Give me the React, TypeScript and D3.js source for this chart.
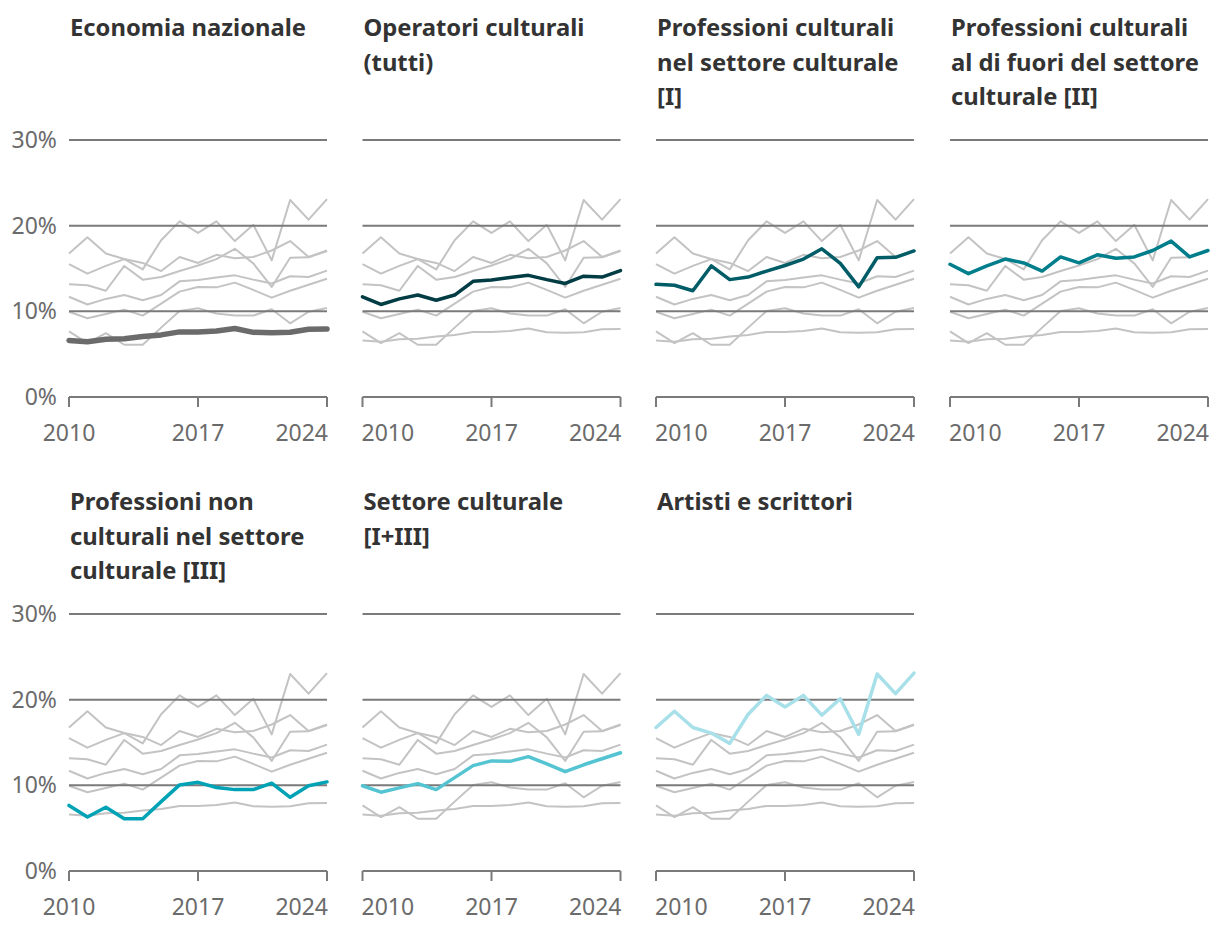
import React from "react";
import * as d3 from "d3";

const years = d3.range(2010, 2025);

const seriesNames = [
  "Economia nazionale",
  "Operatori culturali (tutti)",
  "Professioni culturali nel settore culturale [I]",
  "Professioni culturali al di fuori del settore culturale [II]",
  "Professioni non culturali nel settore culturale [III]",
  "Settore culturale [I+III]",
  "Artisti e scrittori",
];

const titleLines = [
  ["Economia nazionale"],
  ["Operatori culturali", "(tutti)"],
  ["Professioni culturali", "nel settore culturale", "[I]"],
  ["Professioni culturali", "al di fuori del settore", "culturale [II]"],
  ["Professioni non", "culturali nel settore", "culturale [III]"],
  ["Settore culturale", "[I+III]"],
  ["Artisti e scrittori"],
];

const economia = [6.6, 6.45, 6.75, 6.8, 7.05, 7.25, 7.6, 7.6, 7.7, 8.0, 7.55, 7.5, 7.55, 7.9, 7.95];
const operatori = [11.7, 10.8, 11.45, 11.9, 11.3, 11.9, 13.5, 13.65, 13.95, 14.2, 13.7, 13.25, 14.1, 14.0, 14.75];
const profSettore = [13.15, 13.05, 12.4, 15.3, 13.7, 14.0, 14.7, 15.35, 16.1, 17.3, 15.6, 12.85, 16.25, 16.3, 17.05];
const profFuori = [15.5, 14.4, 15.3, 16.1, 15.65, 14.7, 16.35, 15.65, 16.6, 16.2, 16.35, 17.1, 18.2, 16.35, 17.1];
const nonCulturali = [7.65, 6.3, 7.45, 6.1, 6.1, 8.1, 10.05, 10.35, 9.75, 9.5, 9.5, 10.25, 8.6, 9.95, 10.4];
const settore = [9.95, 9.2, 9.7, 10.2, 9.5, 10.9, 12.3, 12.85, 12.8, 13.35, 12.5, 11.6, 12.4, 13.1, 13.8];
const artisti = [16.75, 18.65, 16.75, 16.1, 14.9, 18.3, 20.5, 19.15, 20.5, 18.2, 20.1, 15.95, 23.0, 20.7, 23.1];

const allSeries = [economia, operatori, profSettore, profFuori, nonCulturali, settore, artisti];

const colors = ["#6b6b6b", "#003c43", "#005c66", "#007e8b", "#00a2b6", "#55c4d2", "#a8e0e9"];
const highlightWidths = [5.5, 3.5, 3.5, 3.5, 3.5, 3.5, 3.5];

const yTicks = [0, 10, 20, 30];
const xTicks = [2010, 2017, 2024];

const W = 1220;
const H = 938;
const colX = [69, 362.5, 656, 950];
const panelW = 258;
const rowBase = [397, 871];
const plotH = 257;
const titleBase = [36, 510];
const titleLH = 34.6;

const font = "'Noto Sans', sans-serif";

function Panel({ idx }: { idx: number }) {
  const col = idx % 4;
  const row = Math.floor(idx / 4);
  const x0 = colX[col];
  const x = d3.scaleLinear().domain([2010, 2024]).range([x0, x0 + panelW]);
  const y = d3.scaleLinear().domain([0, 30]).range([rowBase[row], rowBase[row] - plotH]);
  const line = d3
    .line<number>()
    .x((_, i) => x(years[i]))
    .y((d) => y(d));
  return (
    <g>
      {titleLines[idx].map((t, i) => (
        <text
          key={i}
          x={x0 + 1}
          y={titleBase[row] + i * titleLH}
          fontFamily={font}
          fontWeight={700}
          fontSize={23.8}
          fill="#333333"
        >
          {t}
        </text>
      ))}
      {allSeries.map((s, i) =>
        i === idx ? null : (
          <path key={i} d={line(s) || ""} fill="none" stroke="#c3c3c3" strokeWidth={2} strokeLinejoin="round" />
        )
      )}
      {yTicks
        .filter((t) => t > 0)
        .map((t) => (
          <line key={t} x1={x0} x2={x0 + panelW} y1={y(t)} y2={y(t)} stroke="#7a7a7a" strokeWidth={2} />
        ))}
      <line x1={x0} x2={x0 + panelW} y1={y(0)} y2={y(0)} stroke="#7a7a7a" strokeWidth={2} />
      {xTicks.map((t) => (
        <line key={t} x1={x(t)} x2={x(t)} y1={y(0)} y2={y(0) + 10} stroke="#7a7a7a" strokeWidth={2} />
      ))}
      {xTicks.map((t, i) => {
        let anchor: "start" | "middle" | "end" = "middle";
        if (i === 0 && col !== 0) anchor = "start";
        if (i === xTicks.length - 1) anchor = "end";
        return (
          <text
            key={t}
            x={x(t) + (anchor === "end" ? 1 : anchor === "start" ? -1 : 0)}
            y={y(0) + 44}
            textAnchor={anchor}
            fontFamily={font}
            fontSize={23}
            fill="#6b6b6b"
          >
            {t}
          </text>
        );
      })}
      {col === 0 &&
        yTicks.map((t) => (
          <text
            key={t}
            x={x0 - 12}
            y={y(t)}
            dy="0.35em"
            textAnchor="end"
            fontFamily={font}
            fontSize={23}
            fill="#6b6b6b"
          >
            {t + "%"}
          </text>
        ))}
      <path
        d={line(allSeries[idx]) || ""}
        fill="none"
        stroke={colors[idx]}
        strokeWidth={highlightWidths[idx]}
        strokeLinejoin="round"
        strokeLinecap="round"
      />
    </g>
  );
}

export default function App() {
  return (
    <svg
      width={W}
      height={H}
      viewBox={`0 0 ${W} ${H}`}
      style={{ position: "absolute", left: 0, top: 0, background: "#ffffff" }}
    >
      {seriesNames.map((_, i) => (
        <Panel key={i} idx={i} />
      ))}
    </svg>
  );
}
